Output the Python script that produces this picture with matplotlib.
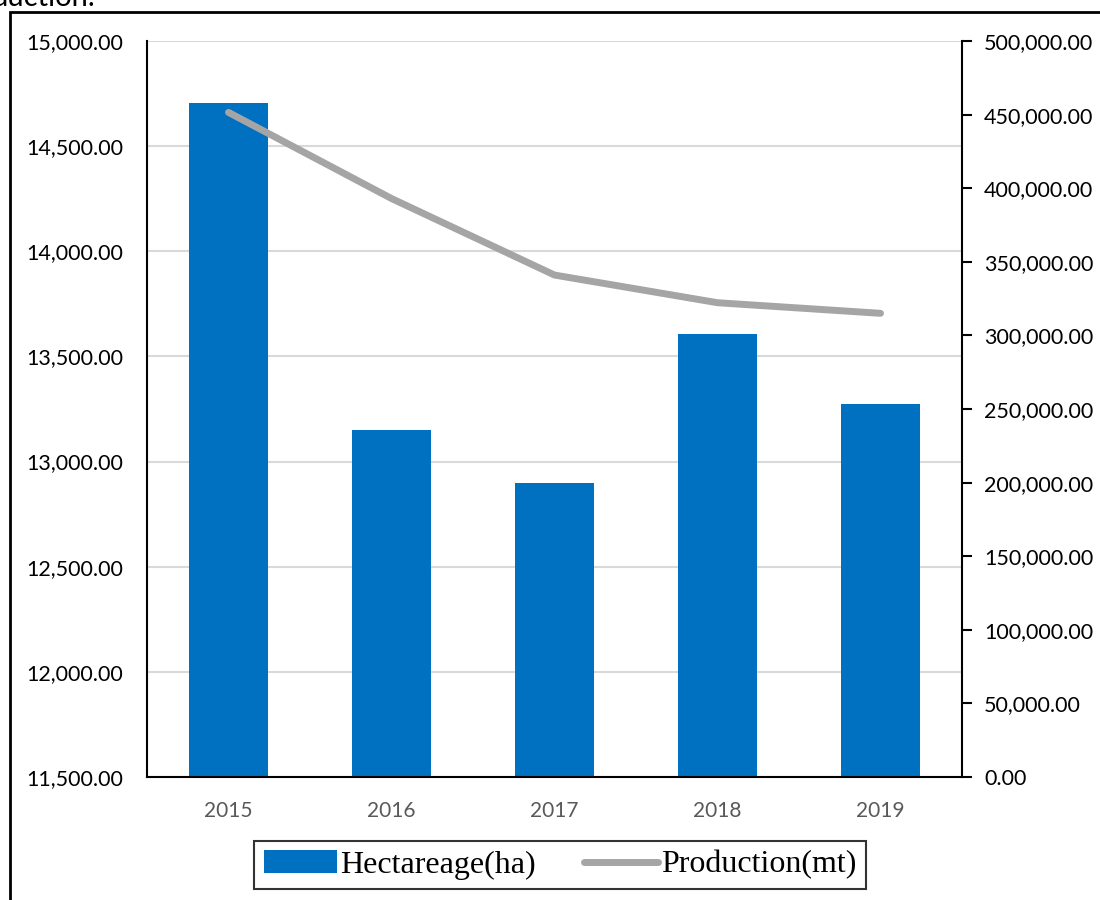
import matplotlib.pyplot as plt
from matplotlib.patches import Rectangle
from matplotlib.ticker import FuncFormatter

years = ['2015', '2016', '2017', '2018', '2019']
hectareage = [14705, 13150, 12898, 13607, 13274]
production = [451500, 393000, 341000, 322200, 315000]

blue = '#0070c0'
gray = '#a5a5a5'

fig = plt.figure(figsize=(11, 9), dpi=100)
ax = fig.add_axes([147/1100, 1-777/900, (962-147)/1100, (777-41)/900])

x = range(len(years))
bars = ax.bar(x, [h - 11500 for h in hectareage], bottom=11500, width=0.48,
              color=blue, zorder=2, label='Hectareage(ha)')
ax.set_ylim(11500, 15000)
ax.set_yticks(range(11500, 15001, 500))
ax.set_xlim(-0.5, 4.5)
ax.set_xticks(list(x))
ax.set_xticklabels(years)
ax.yaxis.set_major_formatter(FuncFormatter(lambda v, p: f'{v:,.2f}'))
ax.grid(axis='y', color='#d9d9d9', linewidth=1.5, zorder=0)
ax.set_axisbelow(True)
for s in ['top', 'right']:
    ax.spines[s].set_visible(False)
ax.spines['left'].set_linewidth(1.5)
ax.spines['bottom'].set_linewidth(1.5)
ax.tick_params(axis='y', length=0, pad=17, labelsize=15.5, labelcolor='black')
ax.tick_params(axis='x', length=0, pad=17, labelsize=15, labelcolor='#595959')
for t in ax.get_yticklabels() + ax.get_xticklabels():
    t.set_fontfamily('Lato')

ax2 = ax.twinx()
line, = ax2.plot(list(x), production, color=gray, linewidth=5,
                 solid_capstyle='round', zorder=3, label='Production(mt)')
ax2.set_ylim(0, 500000)
ax2.set_yticks(range(0, 500001, 50000))
ax2.yaxis.set_major_formatter(FuncFormatter(lambda v, p: f'{v:,.2f}'))
for s in ['top', 'left', 'bottom']:
    ax2.spines[s].set_visible(False)
ax2.spines['right'].set_linewidth(1.5)
ax2.tick_params(axis='y', direction='out', length=7, width=1.5, pad=9,
                labelsize=15.5, labelcolor='black')
for t in ax2.get_yticklabels():
    t.set_fontfamily('Lato')

leg = fig.legend([bars, line], ['Hectareage(ha)', 'Production(mt)'],
                 loc='center', bbox_to_anchor=(560/1100, 1-865/900), ncol=2,
                 frameon=True, fancybox=False, edgecolor='black',
                 prop={'family': 'Liberation Serif', 'size': 23},
                 handlelength=2.3, handletextpad=0.1, columnspacing=1.5,
                 borderpad=0.3, borderaxespad=0)
leg.get_frame().set_linewidth(1.5)

# outer frame (partly off canvas)
fig.patches.append(Rectangle((10/1100, -0.1), 1.2, 1 - 12/900 + 0.1,
                             transform=fig.transFigure, fill=False,
                             edgecolor='black', linewidth=2))
fig.text(-8/1100, 1 - 6/900, 'duction.', fontsize=21, family='Lato',
         va='baseline', ha='left')

fig.savefig('out.png', dpi=100)
